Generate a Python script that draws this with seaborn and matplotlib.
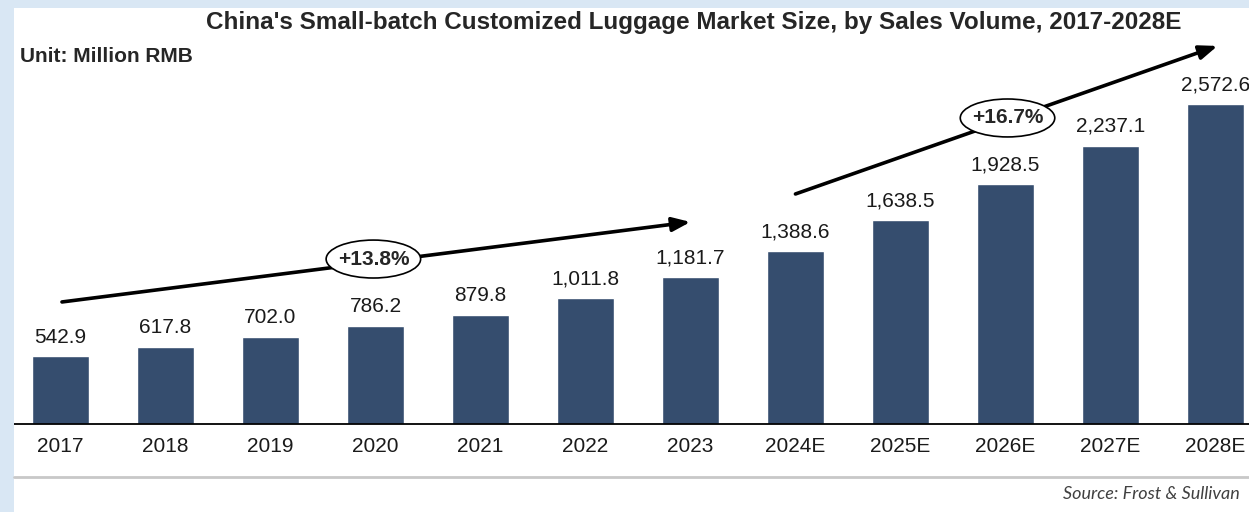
import matplotlib
matplotlib.use("Agg")
import matplotlib.pyplot as plt
from matplotlib import font_manager as fm
from matplotlib.patches import Ellipse, Rectangle
from matplotlib.lines import Line2D
import seaborn as sns
import pandas as pd

years = ["2017", "2018", "2019", "2020", "2021", "2022", "2023",
         "2024E", "2025E", "2026E", "2027E", "2028E"]
values = [542.9, 617.8, 702.0, 786.2, 879.8, 1011.8, 1181.7,
          1388.6, 1638.5, 1928.5, 2237.1, 2572.6]
cagr_labels = ["+13.8%", "+16.7%"]
title = "China's Small-batch Customized Luggage Market Size, by Sales Volume, 2017-2028E"
unit = "Unit: Million RMB"
source = "Source: Frost & Sullivan"

sns.set_theme(style="white")
names = {f.name for f in fm.fontManager.ttflist}
narrow = "Liberation Sans Narrow" if "Liberation Sans Narrow" in names else "Liberation Sans"
plt.rcParams["font.family"] = [narrow, "DejaVu Sans"]

W, H = 1249, 512
fig = plt.figure(figsize=(W / 100, H / 100), dpi=100)
fig.patch.set_facecolor("white")

# light blue frame
border = "#d9e7f4"
fig.patches.append(Rectangle((0, 0), 14 / W, 1, transform=fig.transFigure,
                             facecolor=border, edgecolor="none", zorder=0))
fig.patches.append(Rectangle((0, 1 - 8 / H), 1, 8 / H, transform=fig.transFigure,
                             facecolor=border, edgecolor="none", zorder=0))

ax = fig.add_axes([14 / W, (H - 424) / H, (W - 14) / W, (424 - 8) / H])
ax.set_facecolor("none")

df = pd.DataFrame({"year": years, "value": values})
sns.barplot(data=df, x="year", y="value", color="#354d6e", saturation=1,
            width=0.545, ax=ax)

ax.set_xlim(-0.443, 11.32)
ax.set_ylim(0, 3344)
for s in ["left", "right", "top"]:
    ax.spines[s].set_visible(False)
ax.spines["bottom"].set_color("black")
ax.spines["bottom"].set_linewidth(1.3)
ax.set_yticks([])
ax.set_xlabel("")
ax.set_ylabel("")
ax.tick_params(axis="x", length=0, pad=9, labelsize=15, colors="#1a1a1a")

ax.bar_label(ax.containers[0], labels=[f"{v:,.1f}" for v in values],
             padding=7, fontsize=15, color="#1a1a1a")

# CAGR arrows
def cagr_arrow(x0, y0, x1, y1, ex, ey, label):
    ax.annotate("", xy=(x1, y1), xytext=(x0, y0),
                arrowprops=dict(arrowstyle="-|>,head_length=0.9,head_width=0.35",
                                color="black", lw=2.6, shrinkA=0, shrinkB=0),
                zorder=4)
    ax.add_patch(Ellipse((ex, ey), 0.9, 305, facecolor="white",
                         edgecolor="black", lw=1.2, zorder=5))
    ax.text(ex, ey, label, ha="center", va="center", fontsize=15,
            fontweight="bold", zorder=6)

cagr_arrow(0.014, 981, 6.0, 1624, 2.98, 1326, cagr_labels[0])
cagr_arrow(7.0, 1849, 11.02, 3039, 9.02, 2460, cagr_labels[1])

# texts
fig.text(694 / W, 1 - 22 / H, title, ha="center", va="center",
         fontsize=17.5, fontweight="bold")
fig.text(20 / W, 1 - 57 / H, unit, ha="left", va="center",
         fontsize=15, fontweight="bold")
fig.add_artist(Line2D([14 / W, 1], [1 - 477 / H, 1 - 477 / H],
                      transform=fig.transFigure, color="#c8c8c8", lw=2))
fig.text(1240 / W, 1 - 494 / H, source, ha="right", va="center",
         fontsize=13, style="italic", color="#404040", family=["Lato", "DejaVu Sans"])

fig.savefig("out.png", dpi=100)
